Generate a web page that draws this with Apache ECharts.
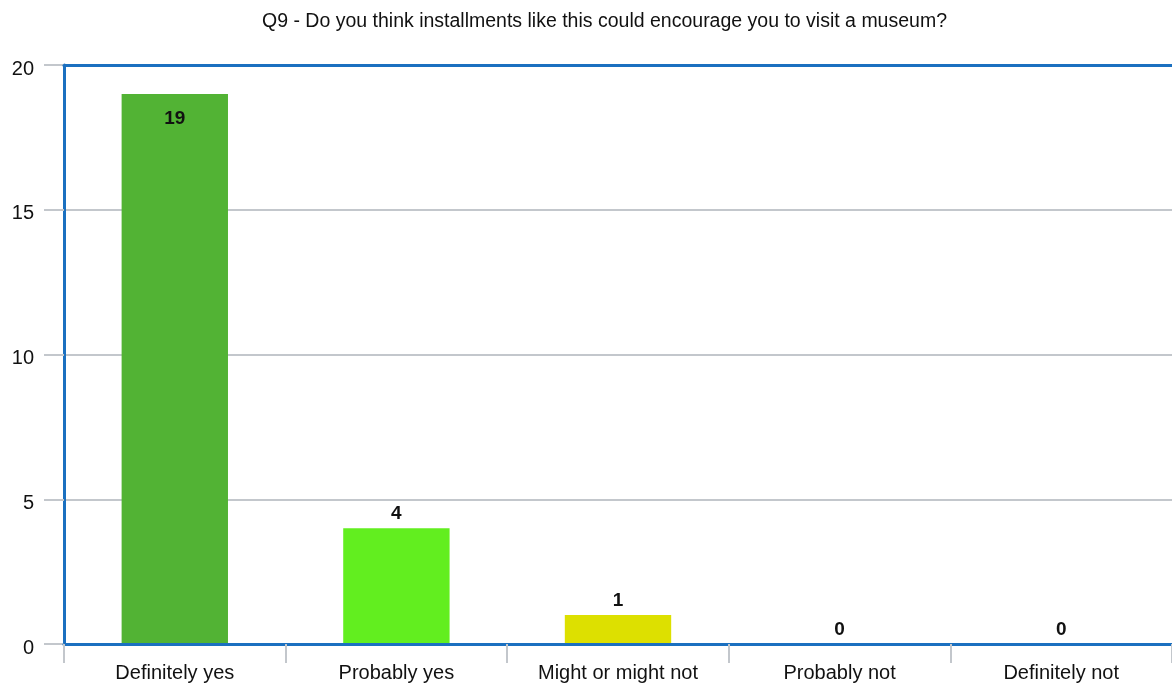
<!DOCTYPE html>
<html>
<head>
<meta charset="utf-8">
<script src="https://cdn.jsdelivr.net/npm/echarts@6/dist/echarts.min.js"></script>
<style>
  html, body { margin: 0; padding: 0; background: #fff; }
  #chart { width: 1172px; height: 685px; }
</style>
</head>
<body>
<div id="chart"></div>
<script>
// Survey answers for Q9
const titleText = 'Q9 - Do you think installments like this could encourage you to visit a museum?';
const categories = ['Definitely yes', 'Probably yes', 'Might or might not', 'Probably not', 'Definitely not'];
const counts = [19, 4, 1, 0, 0];
const barColors = ['#52b334', '#62ee1f', '#dde000', '#3a7bd5', '#1f4fa8'];
const yTicks = [0, 5, 10, 15, 20];

const blue = '#1b70c0';
const grey = '#c3c7cc';
const font = '"Liberation Sans", Arial, sans-serif';

const chart = echarts.init(document.getElementById('chart'), null, { renderer: 'canvas' });

const seriesData = counts.map((v, i) => {
  const item = { value: v, itemStyle: { color: barColors[i] } };
  // tallest bar carries its label inside, near the top
  if (v === Math.max(...counts)) {
    item.label = { position: 'insideTop', distance: 15 };
  }
  return item;
});

chart.setOption({
  animation: false,
  backgroundColor: '#ffffff',
  title: {
    text: titleText,
    left: 257,
    top: 7,
    textStyle: { fontFamily: font, fontSize: 19.5, fontWeight: 'normal', color: '#111' }
  },
  grid: { left: 64, right: -5, top: 65, bottom: 41, show: false },
  xAxis: [{
    type: 'category',
    data: categories,
    boundaryGap: true,
    axisLine: { show: true, lineStyle: { color: blue, width: 3 } },
    axisTick: { show: true, length: 19, lineStyle: { color: grey, width: 2 } },
    axisLabel: { margin: 19, fontFamily: font, fontSize: 20, color: '#111' },
    z: 5
  }, {
    // top frame line of the plot
    type: 'category',
    data: categories,
    position: 'top',
    axisLine: { show: true, lineStyle: { color: blue, width: 3 } },
    axisTick: { show: false },
    axisLabel: { show: false },
    z: 5
  }],
  yAxis: {
    type: 'value',
    min: yTicks[0],
    max: yTicks[yTicks.length - 1],
    interval: yTicks[1] - yTicks[0],
    axisLine: { show: true, lineStyle: { color: blue, width: 3 } },
    axisTick: { show: true, length: 20, lineStyle: { color: grey, width: 2 } },
    axisLabel: {
      margin: 30, verticalAlign: 'top', lineHeight: 8,
      fontFamily: font, fontSize: 20, color: '#111'
    },
    splitLine: { show: true, lineStyle: { color: grey, width: 2 } },
    z: 1
  },
  series: [{
    type: 'bar',
    data: seriesData,
    barWidth: '48%',
    label: {
      show: true,
      position: 'top',
      distance: 5,
      fontFamily: font,
      fontSize: 19,
      fontWeight: 'bold',
      color: '#111'
    },
    z: 3
  }]
});
</script>
</body>
</html>
